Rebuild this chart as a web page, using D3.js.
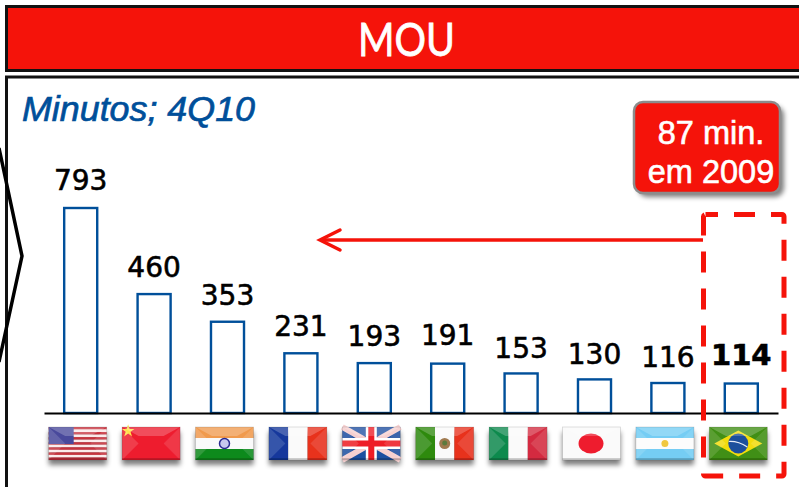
<!DOCTYPE html>
<html>
<head>
<meta charset="utf-8">
<script src="https://cdn.jsdelivr.net/npm/d3@7"></script>
<style>
  html, body { margin: 0; padding: 0; background: #fff; overflow: hidden; }
  svg { display: block; }
</style>
</head>
<body>
<div id="chart"></div>
<script>
// Data
const countries = ['us', 'cn', 'in', 'fr', 'uk', 'mx', 'it', 'jp', 'ar', 'br'];
const minutes = [793, 460, 353, 231, 193, 191, 153, 130, 116, 114];
const labelLift = [18, 17, 17, 17, 17, 19, 15, 15, 16, 19];
const titleText = 'MOU';
const subtitleText = 'Minutos; 4Q10';
const calloutLines = ['87 min.', 'em 2009'];

const RED = '#f5130a';
const BLUE = '#004f9a';
const width = 799, height = 487;

const svg = d3.select('#chart').append('svg')
    .attr('width', width)
    .attr('height', height);

const defs = svg.append('defs');
defs.append('filter').attr('id', 'soft')
    .append('feGaussianBlur').attr('stdDeviation', 0.45);
defs.append('filter').attr('id', 'shadow')
    .attr('x', '-20%').attr('y', '-20%').attr('width', '140%').attr('height', '150%')
    .append('feGaussianBlur').attr('stdDeviation', 2.5);

// Header band
svg.append('rect')
    .attr('x', 6.5).attr('y', 6.5)
    .attr('width', 800).attr('height', 64)
    .attr('fill', RED)
    .attr('stroke', '#111').attr('stroke-width', 3);

svg.append('text')
    .attr('x', 358).attr('y', 56)
    .attr('font-family', 'Lato, sans-serif')
    .attr('font-size', 46)
    .attr('textLength', 97)
    .attr('lengthAdjust', 'spacingAndGlyphs')
    .attr('fill', '#fff')
    .attr('stroke', '#fff').attr('stroke-width', 0.8)
    .text(titleText);

// Panel
svg.append('rect')
    .attr('x', 6.5).attr('y', 77)
    .attr('width', 800).attr('height', 420)
    .attr('fill', '#fff')
    .attr('stroke', '#111').attr('stroke-width', 3);

// Chevron coming in from the left slide
svg.append('path')
    .attr('d', 'M-1,148L22,256L-1,362')
    .attr('fill', 'none')
    .attr('stroke', '#000').attr('stroke-width', 3.5);

svg.append('text')
    .attr('x', 22).attr('y', 121)
    .attr('font-family', '"Liberation Sans", sans-serif')
    .attr('font-style', 'italic')
    .attr('font-size', 35)
    .attr('textLength', 233)
    .attr('lengthAdjust', 'spacingAndGlyphs')
    .attr('fill', BLUE)
    .attr('stroke', BLUE).attr('stroke-width', 0.7)
    .text(subtitleText);

// Scales
const xScale = d3.scaleBand()
    .domain(countries)
    .range([44, 778])
    .paddingInner(0.55)
    .paddingOuter(0.275);

const yScale = d3.scaleLinear()
    .domain([0, 793])
    .range([413, 208]);

// Bars
svg.selectAll('rect.bar')
    .data(minutes)
    .join('rect')
    .attr('class', 'bar')
    .attr('x', (d, i) => xScale(countries[i]))
    .attr('y', d => yScale(d))
    .attr('width', xScale.bandwidth())
    .attr('height', d => yScale(0) - yScale(d))
    .attr('fill', '#fff')
    .attr('stroke', BLUE)
    .attr('stroke-width', 2.4);

// Baseline
svg.append('g')
    .attr('transform', `translate(0,${yScale(0)})`)
    .call(d3.axisBottom(xScale).tickSize(0).tickFormat(''))
    .call(g => g.select('.domain').attr('stroke', '#000').attr('stroke-width', 2));

// Value labels
svg.selectAll('text.value')
    .data(minutes)
    .join('text')
    .attr('class', 'value')
    .attr('x', (d, i) => xScale(countries[i]) + xScale.bandwidth() / 2)
    .attr('y', (d, i) => yScale(d) - labelLift[i])
    .attr('text-anchor', 'middle')
    .attr('font-family', '"DejaVu Sans", sans-serif')
    .attr('font-size', (d, i) => countries[i] === 'br' ? 29 : 28)
    .attr('font-weight', (d, i) => countries[i] === 'br' ? 'bold' : 'normal')
    .attr('fill', '#000')
    .attr('stroke', '#000').attr('stroke-width', 0.6)
    .text(d => d);

// Flags, drawn in a 58x33 box
const flagW = 58, flagH = 33;

function stripes(g, list, vertical) {
    const n = list.length;
    list.forEach((c, i) => {
        g.append('rect')
            .attr('x', vertical ? flagW * i / n : 0)
            .attr('y', vertical ? 0 : flagH * i / n)
            .attr('width', vertical ? flagW / n : flagW)
            .attr('height', vertical ? flagH : flagH / n)
            .attr('fill', c);
    });
}

const flagPainters = {
    us(g) {
        stripes(g, d3.range(13).map(i => i % 2 ? '#fbeaea' : '#c8303c'));
        g.append('rect').attr('width', 25).attr('height', 17).attr('fill', '#4a4a9c');
    },
    cn(g) {
        g.append('rect').attr('width', flagW).attr('height', flagH).attr('fill', '#ee1c2e');
        g.append('path')
            .attr('d', d3.symbol().type(d3.symbolStar).size(50))
            .attr('transform', 'translate(6,4)')
            .attr('fill', '#ffe14a');
    },
    in(g) {
        stripes(g, ['#f09a4e', '#fafafa', '#0f8a1e']);
        g.append('circle').attr('cx', 29).attr('cy', 16.5).attr('r', 5)
            .attr('fill', '#c8c8ee').attr('stroke', '#2a2a90').attr('stroke-width', 1.5);
    },
    fr(g) { stripes(g, ['#15399c', '#fafafa', '#e8301c'], true); },
    uk(g) {
        g.append('rect').attr('width', flagW).attr('height', flagH).attr('fill', '#1f4fa0');
        g.append('path').attr('d', `M0,0L${flagW},${flagH}M${flagW},0L0,${flagH}`)
            .attr('stroke', '#f6d0d0').attr('stroke-width', 6);
        g.append('path').attr('d', `M${flagW / 2},0V${flagH}M0,${flagH / 2}H${flagW}`)
            .attr('stroke', '#fff').attr('stroke-width', 11);
        g.append('path').attr('d', `M${flagW / 2},0V${flagH}M0,${flagH / 2}H${flagW}`)
            .attr('stroke', '#ee1c25').attr('stroke-width', 6);
    },
    mx(g) {
        stripes(g, ['#2f8a0e', '#fafafa', '#e8301c'], true);
        g.append('circle').attr('cx', 29).attr('cy', 16.5).attr('r', 5.5).attr('fill', '#a07a50');
        g.append('circle').attr('cx', 29).attr('cy', 16).attr('r', 2.5).attr('fill', '#5c7a3c');
    },
    it(g) { stripes(g, ['#0f8a4e', '#fafafa', '#d42c40'], true); },
    jp(g) {
        g.append('rect').attr('width', flagW).attr('height', flagH).attr('fill', '#fafafa');
        g.append('ellipse').attr('cx', 28.5).attr('cy', 16.5).attr('rx', 12.5).attr('ry', 10).attr('fill', '#ee1c2e');
    },
    ar(g) {
        stripes(g, ['#74cdf4', '#fcfcfc', '#74cdf4']);
        g.append('circle').attr('cx', 29).attr('cy', 16.5).attr('r', 3.5).attr('fill', '#f0c840');
    },
    br(g) {
        g.append('rect').attr('width', flagW).attr('height', flagH).attr('fill', '#3f8f12');
        g.append('path').attr('d', `M29,3.5L${flagW - 5},16.5L29,29.5L5,16.5Z`).attr('fill', '#f2dc10');
        g.append('circle').attr('cx', 29).attr('cy', 16.5).attr('r', 10).attr('fill', '#1f4f9c');
        g.append('path').attr('d', 'M19.5,14.5Q29,14 38,20')
            .attr('fill', 'none').attr('stroke', '#e8eef8').attr('stroke-width', 1.2);
    }
};

const flags = svg.selectAll('g.flag')
    .data(countries)
    .join('g')
    .attr('class', 'flag')
    .attr('transform', d => `translate(${xScale(d) + xScale.bandwidth() / 2 - flagW / 2 - 3},427)`);

// Drop shadow under each flag
flags.append('rect')
    .attr('x', 0).attr('y', 5)
    .attr('width', flagW).attr('height', flagH)
    .attr('fill', '#000').attr('opacity', 0.5)
    .attr('filter', 'url(#shadow)');

const flagFaces = flags.append('g').attr('filter', 'url(#soft)');
flagFaces.each(function (d) { flagPainters[d](d3.select(this)); });

// Glassy bevel facets
const m = flagH / 2;
flagFaces.append('path')
    .attr('d', `M0,0H${flagW}L${flagW - m},${m * 0.55}H${m}Z`)
    .attr('fill', '#fff').attr('opacity', 0.22);
flagFaces.append('path')
    .attr('d', `M0,0L${m},${m}L0,${flagH}Z`)
    .attr('fill', '#fff').attr('opacity', 0.14);
flagFaces.append('path')
    .attr('d', `M${flagW},0L${flagW - m},${m}L${flagW},${flagH}Z`)
    .attr('fill', '#fff').attr('opacity', 0.12);
flagFaces.append('rect')
    .attr('y', flagH - 2).attr('width', flagW).attr('height', 2)
    .attr('fill', '#000').attr('opacity', 0.18);
flagFaces.append('rect')
    .attr('width', flagW).attr('height', flagH)
    .attr('fill', 'none')
    .attr('stroke', '#000').attr('stroke-opacity', 0.15).attr('stroke-width', 0.8);

// Brazil highlight
svg.append('rect')
    .attr('x', 703.5).attr('y', 214.5)
    .attr('width', 80.5).attr('height', 261.5)
    .attr('rx', 2)
    .attr('fill', 'none')
    .attr('stroke', RED).attr('stroke-width', 5)
    .attr('stroke-dasharray', '21 16')
    .attr('stroke-dashoffset', 8.5);

// Arrow towards the peers
svg.append('path')
    .attr('d', 'M703,240H320')
    .attr('stroke', RED).attr('stroke-width', 3.5);
svg.append('path')
    .attr('d', 'M340,230L320,240L340,250')
    .attr('fill', 'none')
    .attr('stroke', RED).attr('stroke-width', 3.5)
    .attr('stroke-linecap', 'round');

// Callout
svg.append('rect')
    .attr('x', 638).attr('y', 106)
    .attr('width', 146).attr('height', 91)
    .attr('rx', 9)
    .attr('fill', '#000').attr('opacity', 0.5)
    .attr('filter', 'url(#shadow)');
svg.append('rect')
    .attr('x', 634).attr('y', 102)
    .attr('width', 146).attr('height', 91)
    .attr('rx', 9)
    .attr('fill', RED)
    .attr('stroke', '#8c8c8c').attr('stroke-width', 2.5);
svg.selectAll('text.callout')
    .data(calloutLines)
    .join('text')
    .attr('class', 'callout')
    .attr('x', 711)
    .attr('y', (d, i) => 144 + i * 39)
    .attr('text-anchor', 'middle')
    .attr('font-family', '"Liberation Sans", sans-serif')
    .attr('font-size', 32.5)
    .attr('fill', '#fff')
    .attr('stroke', '#fff').attr('stroke-width', 0.6)
    .text(d => d);
</script>
</body>
</html>
